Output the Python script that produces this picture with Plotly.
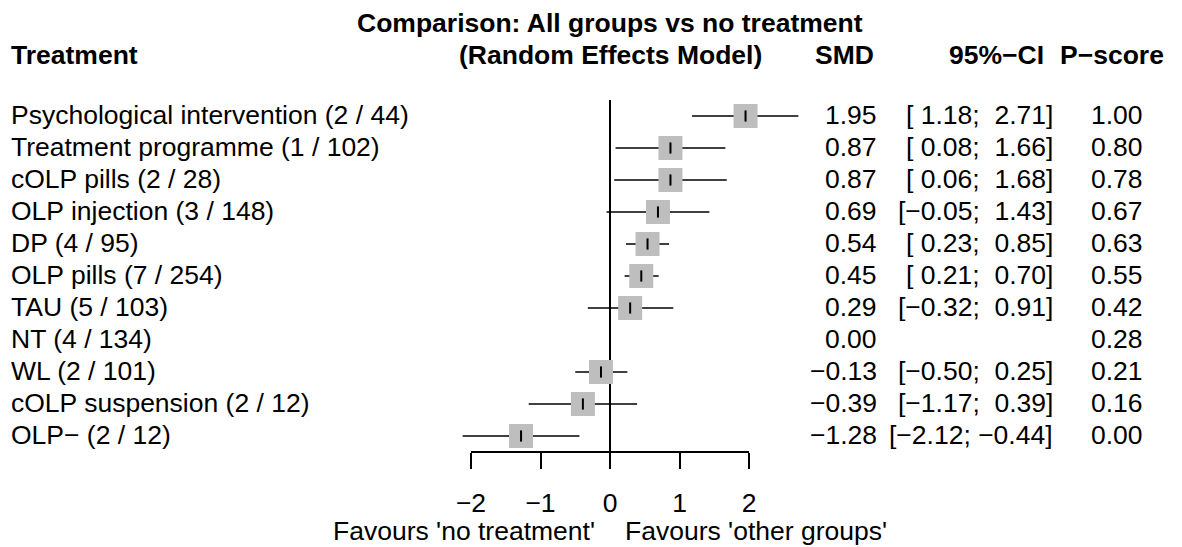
import plotly.graph_objects as go

# ---------------- data ----------------
treatments = ["Psychological intervention", "Treatment programme", "cOLP pills",
              "OLP injection", "DP", "OLP pills", "TAU", "NT", "WL",
              "cOLP suspension", "OLP\u2212"]
n_studies = [2, 1, 2, 3, 4, 7, 5, 4, 2, 2, 2]
n_participants = [44, 102, 28, 148, 95, 254, 103, 134, 101, 12, 12]
smd = [1.95, 0.87, 0.87, 0.69, 0.54, 0.45, 0.29, 0.00, -0.13, -0.39, -1.28]
ci_lower = [1.18, 0.08, 0.06, -0.05, 0.23, 0.21, -0.32, None, -0.50, -1.17, -2.12]
ci_upper = [2.71, 1.66, 1.68, 1.43, 0.85, 0.70, 0.91, None, 0.25, 0.39, -0.44]
pscore = [1.00, 0.80, 0.78, 0.67, 0.63, 0.55, 0.42, 0.28, 0.21, 0.16, 0.00]
axis_ticks = [-2, -1, 0, 1, 2]

# ---------------- layout geometry ----------------
W, H = 1182, 547
X0_PX, X_UNIT = 610.0, 69.5        # pixel of SMD=0, pixels per SMD unit
ROW0_PX, ROW_STEP = 116.0, 32.0    # pixel of first row, row spacing
FONT = "Liberation Sans, Arial, Helvetica, sans-serif"
FS = 26.5

n = len(treatments)
rows = list(range(1, n + 1))

x_min = (0 - X0_PX) / X_UNIT
x_max = (W - X0_PX) / X_UNIT
y_top = 1 + (0 - ROW0_PX) / ROW_STEP
y_bot = 1 + (H - ROW0_PX) / ROW_STEP


def px_x(p):
    return p / W


def row_of_px(p):
    return 1 + (p - ROW0_PX) / ROW_STEP


def paper_y_of_row(r):
    return (y_bot - r) / (y_bot - y_top)


def fmt(v):
    return f"{v:5.2f}".replace("-", "\u2212")


axis_row = n + 0.5

fig = go.Figure()

# reference line at SMD = 0
fig.add_trace(go.Scatter(x=[0, 0], y=[0.5, axis_row], mode="lines",
                         line=dict(color="black", width=2),
                         hoverinfo="skip", showlegend=False))

# confidence intervals
ci_x, ci_y = [], []
for r, lo, hi in zip(rows, ci_lower, ci_upper):
    if lo is None:
        continue
    ci_x += [lo, hi, None]
    ci_y += [r, r, None]
fig.add_trace(go.Scatter(x=ci_x, y=ci_y, mode="lines",
                         line=dict(color="black", width=1.6),
                         hoverinfo="skip", showlegend=False))

# squares + centre ticks (reference treatment NT has no CI)
sq_x = [m for m, lo in zip(smd, ci_lower) if lo is not None]
sq_y = [r for r, lo in zip(rows, ci_lower) if lo is not None]
fig.add_trace(go.Scatter(x=sq_x, y=sq_y, mode="markers",
                         marker=dict(symbol="square", size=24, color="#BEBEBE",
                                     line=dict(width=0)),
                         hoverinfo="skip", showlegend=False))
fig.add_trace(go.Scatter(x=sq_x, y=sq_y, mode="markers",
                         marker=dict(symbol="line-ns", size=8,
                                     line=dict(width=2, color="black")),
                         hoverinfo="skip", showlegend=False))

# invisible helper so the bottom SMD axis (x2) is rendered
fig.add_trace(go.Scatter(x=axis_ticks, y=[axis_row] * len(axis_ticks),
                         xaxis="x2", yaxis="y", mode="markers",
                         marker=dict(opacity=0, size=1),
                         hoverinfo="skip", showlegend=False))

ann = []


def add_text(text, xpx, y, xanchor, bold=False, yref="y"):
    ann.append(dict(text=f"<b>{text}</b>" if bold else text,
                    x=px_x(xpx), xref="paper", y=y, yref=yref,
                    xanchor=xanchor, yanchor="middle", showarrow=False,
                    font=dict(family=FONT, size=FS, color="black"),
                    borderpad=0, borderwidth=0))


# headers
add_text("Comparison: All groups vs no treatment", X0_PX, row_of_px(23), "center", True)
add_text("(Random Effects Model)", X0_PX, row_of_px(55), "center", True)
add_text("Treatment", 11, row_of_px(55), "left", True)
add_text("SMD", 874, row_of_px(55), "right", True)
add_text("95%\u2212CI", 1044, row_of_px(55), "right", True)
add_text("P\u2212score", 1164, row_of_px(55), "right", True)

# row texts
for r, t, k, npart, m, lo, hi, p in zip(rows, treatments, n_studies, n_participants,
                                         smd, ci_lower, ci_upper, pscore):
    add_text(f"{t} ({k} / {npart})", 11, r - 0.03, "left")
    add_text(fmt(m).strip(), 877, r - 0.03, "right")
    if lo is not None:
        add_text(f"[{fmt(lo)}; {fmt(hi)}]", 1053, r - 0.03, "right")
    add_text(f"{p:.2f}", 1143, r - 0.03, "right")

# favours labels
add_text("Favours 'no treatment'", X0_PX - 15, row_of_px(531), "right")
add_text("Favours 'other groups'", X0_PX + 15, row_of_px(531), "left")

fig.update_layout(
    width=W, height=H,
    margin=dict(l=0, r=0, t=0, b=0, pad=0, autoexpand=False),
    paper_bgcolor="white", plot_bgcolor="rgba(0,0,0,0)",
    showlegend=False,
    annotations=ann,
    xaxis=dict(range=[x_min, x_max], domain=[0, 1], visible=False, fixedrange=True),
    yaxis=dict(range=[y_bot, y_top], domain=[0, 1], visible=False, fixedrange=True),
    xaxis2=dict(range=[-2, 2],
                domain=[px_x(X0_PX - 2 * X_UNIT), px_x(X0_PX + 2 * X_UNIT)],
                anchor="free", position=paper_y_of_row(axis_row),
                showline=True, linewidth=2, linecolor="black",
                ticks="outside", ticklen=16, tickwidth=2, tickcolor="black",
                tickvals=axis_ticks,
                ticktext=[str(v).replace("-", "\u2212") for v in axis_ticks],
                tickfont=dict(family=FONT, size=FS, color="black"),
                ticklabelstandoff=11,
                showgrid=False, zeroline=False, fixedrange=True),
    font=dict(family=FONT, size=FS, color="black"),
)

fig.write_html("out.html", config={"displayModeBar": False},
               post_script="document.body.style.margin='0px';"
                           "document.body.style.padding='0px';"
                           "document.body.style.overflow='hidden';")
